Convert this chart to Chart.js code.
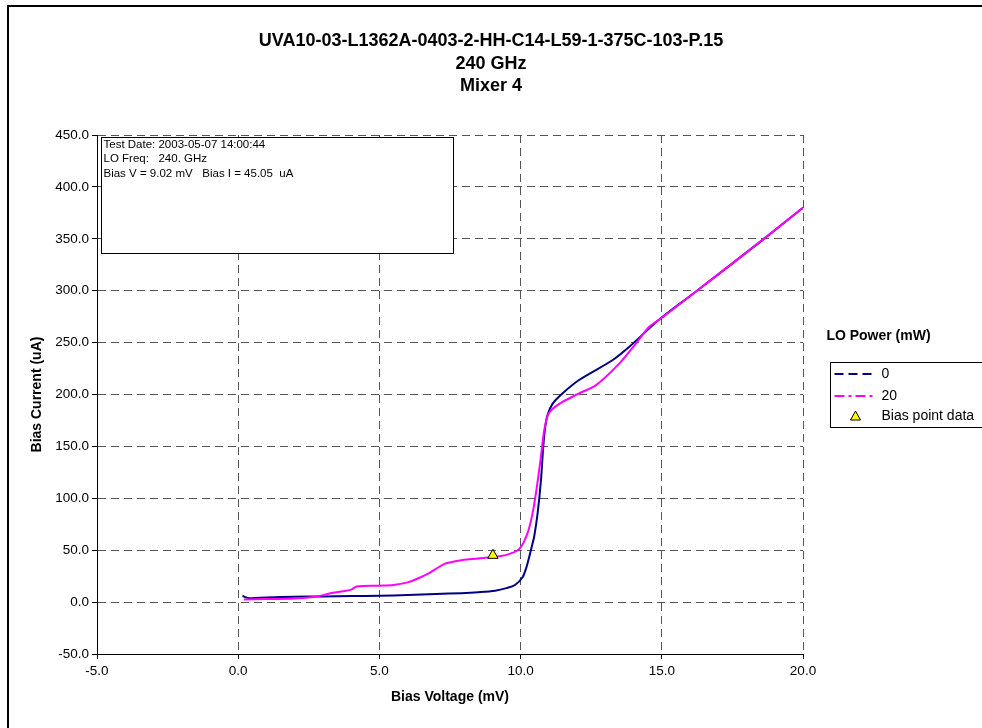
<!DOCTYPE html>
<html>
<head>
<meta charset="utf-8">
<title>Bias Current vs Bias Voltage</title>
<script src="https://cdn.jsdelivr.net/npm/chart.js@4.4.1/dist/chart.umd.min.js"></script>
<style>
    html, body { margin: 0; padding: 0; background: #fff; }
    #wrap { width: 982px; height: 728px; }
</style>
</head>
<body>
<div id="wrap"><canvas id="ivChart" width="982" height="728"></canvas></div>
<script>
// Data
const titleLines = ["UVA10-03-L1362A-0403-2-HH-C14-L59-1-375C-103-P.15", "240 GHz", "Mixer 4"];
const infoLines = ["Test Date: 2003-05-07 14:00:44", "LO Freq:   240. GHz", "Bias V = 9.02 mV   Bias I = 45.05  uA"];
const seriesNames = ["0", "20", "Bias point data"];

// LO power 0 mW
const volts0 = [0.15, 0.4, 1.0, 2.0, 3.0, 4.0, 5.0, 6.0, 7.0, 7.9, 8.5, 9.1, 9.5, 9.8, 10.07, 10.2, 10.3, 10.4, 10.48, 10.6, 10.72, 10.8, 10.87, 10.95, 11.13, 11.48, 12.07, 13.25, 13.85, 14.9, 16.2, 18.57, 20.0];
const amps0 = [5.8, 3.8, 4.5, 5.1, 5.5, 5.8, 6.2, 6.8, 7.8, 8.6, 9.5, 11.0, 13.5, 16.5, 24, 33, 43, 54, 63, 85, 117, 149, 168, 180, 191, 201, 214, 233, 246, 272, 299, 349, 380];

// LO power 20 mW
const volts20 = [0.2, 1.0, 2.0, 2.8, 3.2, 3.6, 4.0, 4.2, 5.0, 5.5, 6.0, 6.3, 6.76, 7.0, 7.35, 7.94, 8.5, 9.0, 9.5, 9.95, 10.24, 10.42, 10.56, 10.72, 10.84, 11.0, 11.37, 12.07, 12.67, 13.5, 14.08, 14.55, 15.0, 16.2, 18.57, 20.0];
const amps20 = [2.6, 3.0, 3.5, 5.5, 8, 10, 12, 15, 15.8, 16.5, 19, 22, 28, 32, 37.3, 40.5, 42, 43.5, 45.5, 51, 66, 85, 108, 140, 166, 182, 191, 201, 209, 230, 249, 265, 274, 299, 349, 380];

const biasV = [9.02];
const biasI = [45.05];

const xTicks = [-5, 0, 5, 10, 15, 20];
const yTicks = [-50, 0, 50, 100, 150, 200, 250, 300, 350, 400, 450];

const FONT = "'Liberation Sans', Arial, sans-serif";
const BLUE = "#000080";
const MAGENTA = "#FF00FF";

function toPoints(xs, ys){
    return xs.map((x, i) => ({ x: x, y: ys[i] }));
}

// frame, info box and legend
const extras = {
    id: "extras",
    afterDraw(chart){
        const ctx = chart.ctx;
        const area = chart.chartArea;
        ctx.save();

        // outer frame (only top and left visible in the picture)
        ctx.fillStyle = "#000";
        ctx.fillRect(7, 5, chart.width, 2);
        ctx.fillRect(7, 5, 2, chart.height);

        // info box
        const bx = Math.round(area.left) + 4.5;
        const by = Math.round(area.top) + 2.5;
        ctx.fillStyle = "#fff";
        ctx.fillRect(bx, by, 352, 116);
        ctx.strokeStyle = "#000";
        ctx.lineWidth = 1;
        ctx.strokeRect(bx, by, 352, 116);
        ctx.fillStyle = "#000";
        ctx.font = "11.5px " + FONT;
        ctx.textBaseline = "middle";
        ctx.textAlign = "left";
        const infoY = [by + 7, by + 21, by + 36];
        infoLines.forEach((t, i) => ctx.fillText(t, bx + 2, infoY[i]));

        // legend
        const lx = area.right + 27.5;
        ctx.font = "bold 14px " + FONT;
        ctx.textAlign = "center";
        ctx.fillText("LO Power (mW)", lx + 48, 336);

        ctx.strokeRect(lx, 362.5, 152, 65);
        ctx.font = "14px " + FONT;
        ctx.textAlign = "left";

        ctx.lineWidth = 2;
        ctx.strokeStyle = BLUE;
        ctx.setLineDash([9, 5]);
        ctx.beginPath();
        ctx.moveTo(lx + 4, 374);
        ctx.lineTo(lx + 45, 374);
        ctx.stroke();

        ctx.strokeStyle = MAGENTA;
        ctx.setLineDash([10, 4, 3, 4]);
        ctx.beginPath();
        ctx.moveTo(lx + 4, 396);
        ctx.lineTo(lx + 45, 396);
        ctx.stroke();
        ctx.setLineDash([]);

        // triangle marker
        ctx.lineWidth = 1;
        ctx.strokeStyle = "#000";
        ctx.fillStyle = "#FFFF00";
        const tx = lx + 25, ty = 416;
        ctx.beginPath();
        ctx.moveTo(tx, ty - 5);
        ctx.lineTo(tx + 5, ty + 4);
        ctx.lineTo(tx - 5, ty + 4);
        ctx.closePath();
        ctx.fill();
        ctx.stroke();

        ctx.fillStyle = "#000";
        ctx.fillText(seriesNames[0], lx + 51, 374);
        ctx.fillText(seriesNames[1], lx + 51, 396);
        ctx.fillText(seriesNames[2], lx + 51, 416);

        ctx.restore();
    }
};

const gridOpts = {
    color: "#555",
    tickLength: 5,
    tickColor: "#000",
    tickBorderDash: []
};
const borderOpts = { display: true, color: "#000", width: 1, dash: [8, 5] };

new Chart(document.getElementById("ivChart"), {
    type: "scatter",
    data: {
        datasets: [
            {
                label: seriesNames[2],
                data: toPoints(biasV, biasI),
                pointStyle: "triangle",
                pointRadius: 6,
                backgroundColor: "#FFFF00",
                borderColor: "#000",
                borderWidth: 1,
                order: 0
            },
            {
                label: seriesNames[1],
                data: toPoints(volts20, amps20),
                showLine: true,
                borderColor: MAGENTA,
                borderWidth: 2,
                pointRadius: 0,
                tension: 0.3,
                order: 1
            },
            {
                label: seriesNames[0],
                data: toPoints(volts0, amps0),
                showLine: true,
                borderColor: BLUE,
                borderWidth: 2,
                pointRadius: 0,
                tension: 0.3,
                order: 2
            }
        ]
    },
    options: {
        responsive: false,
        animation: false,
        layout: { padding: 0 },
        plugins: {
            legend: { display: false },
            tooltip: { enabled: false },
            title: {
                display: true,
                text: titleLines,
                color: "#000",
                font: { family: FONT, size: 18, weight: "bold", lineHeight: 1.25 },
                padding: { top: 30, bottom: 37.5 }
            }
        },
        scales: {
            x: {
                type: "linear",
                min: -5,
                max: 20,
                afterBuildTicks: s => { s.ticks = xTicks.map(v => ({ value: v })); },
                afterFit: s => { s.height = 74; },
                ticks: {
                    color: "#000",
                    font: { family: FONT, size: 13.5 },
                    padding: 4,
                    maxRotation: 0,
                    callback: v => v.toFixed(1)
                },
                grid: gridOpts,
                border: borderOpts,
                title: {
                    display: true,
                    text: "Bias Voltage (mV)",
                    color: "#000",
                    font: { family: FONT, size: 14, weight: "bold" },
                    padding: { top: 4, bottom: 22 }
                }
            },
            y: {
                type: "linear",
                position: "left",
                min: -50,
                max: 450,
                afterBuildTicks: s => { s.ticks = yTicks.map(v => ({ value: v })); },
                afterFit: s => { s.width = 97; },
                ticks: {
                    color: "#000",
                    font: { family: FONT, size: 13.5 },
                    padding: 3,
                    callback: v => v.toFixed(1)
                },
                grid: gridOpts,
                border: borderOpts,
                title: {
                    display: true,
                    text: "Bias Current (uA)",
                    color: "#000",
                    font: { family: FONT, size: 14, weight: "bold" },
                    padding: { top: 29, bottom: 4 }
                }
            },
            // empty axis on the right to leave room for the legend
            side: {
                type: "linear",
                position: "right",
                display: true,
                afterFit: s => { s.width = 179; },
                ticks: { display: false },
                grid: { display: false },
                border: { display: false }
            }
        }
    },
    plugins: [extras]
});
</script>
</body>
</html>
